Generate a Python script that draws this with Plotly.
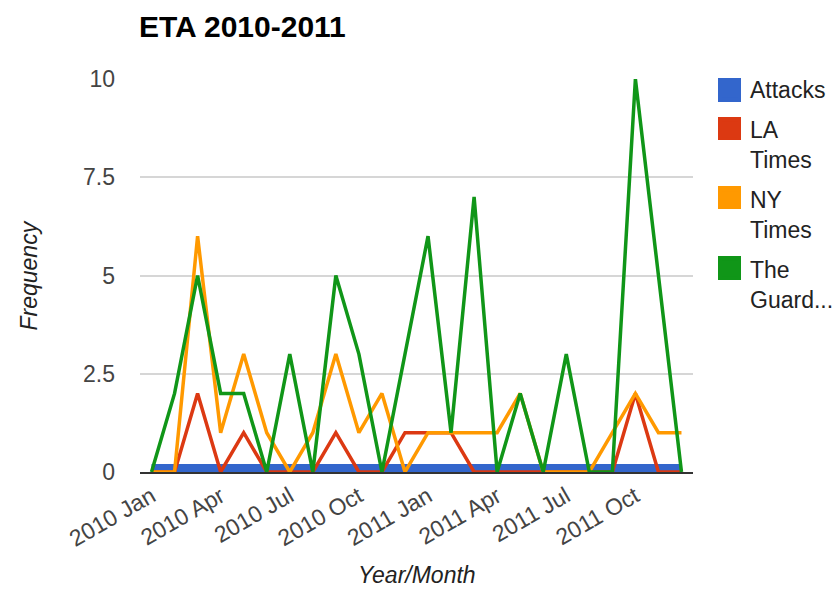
import plotly.graph_objects as go

months = ["2010 Jan", "2010 Feb", "2010 Mar", "2010 Apr", "2010 May", "2010 Jun",
          "2010 Jul", "2010 Aug", "2010 Sep", "2010 Oct", "2010 Nov", "2010 Dec",
          "2011 Jan", "2011 Feb", "2011 Mar", "2011 Apr", "2011 May", "2011 Jun",
          "2011 Jul", "2011 Aug", "2011 Sep", "2011 Oct", "2011 Nov", "2011 Dec"]
attacks = [0, 0, 0, 0, 0, 0, 0, 0, 0, 0, 0, 0, 0, 0, 0, 0, 0, 0, 0, 0, 0, 0, 0, 0]
la_times = [0, 0, 2, 0, 1, 0, 0, 0, 1, 0, 0, 1, 1, 1, 0, 0, 0, 0, 0, 0, 0, 2, 0, 0]
ny_times = [0, 0, 6, 1, 3, 1, 0, 1, 3, 1, 2, 0, 1, 1, 1, 1, 2, 0, 0, 0, 1, 2, 1, 1]
guardian = [0, 2, 5, 2, 2, 0, 3, 0, 5, 3, 0, 3, 6, 1, 7, 0, 2, 0, 3, 0, 0, 10, 5, 0]

tick_labels = ["2010 Jan", "2010 Apr", "2010 Jul", "2010 Oct",
               "2011 Jan", "2011 Apr", "2011 Jul", "2011 Oct"]
y_ticks = [0, 2.5, 5, 7.5, 10]
y_tick_text = ["0", "2.5", "5", "7.5", "10"]

series = [
    ("Attacks", attacks, "#3366cc", 16),
    ("LA<br>Times", la_times, "#dc3912", 3.5),
    ("NY<br>Times", ny_times, "#ff9900", 3.5),
    ("The<br>Guard...", guardian, "#109618", 3.5),
]

# figure geometry (page is offset by the 8px body margin)
W, H = 832, 582
L, T = 132, 71
PW, PH = 553, 393
R, B = W - L - PW, H - T - PH

FONT = "Arial, Liberation Sans, sans-serif"
FS = 23
fig = go.Figure()
for name, vals, color, w in series:
    fig.add_trace(go.Scatter(x=months, y=vals, mode="lines", name=name,
                             line=dict(color=color, width=w), showlegend=False,
                             hoverinfo="x+y"))
for i, (name, vals, color, w) in enumerate(series):
    fig.add_trace(go.Scatter(x=[None], y=[None], mode="markers", name=name,
                             legendgroup=f"g{i}",
                             marker=dict(symbol="square", size=16, color=color),
                             showlegend=True))

# enlarge legend keys to the reference's ~23px squares (figure pixel rows)
key_rows = [(70, 94), (109, 132), (178, 201), (248, 272)]
key_x0, key_x1 = 710, 733
for (y0, y1), (_, _, color, _) in zip(key_rows, series):
    fig.add_shape(type="rect", xref="paper", yref="paper",
                  x0=(key_x0 - L) / PW, x1=(key_x1 - L) / PW,
                  y0=(T + PH - y1) / PH, y1=(T + PH - y0) / PH,
                  fillcolor=color, line=dict(width=0), layer="above")

fig.update_layout(
    width=W, height=H,
    margin=dict(l=L, r=R, t=T, b=B, autoexpand=False),
    paper_bgcolor="white", plot_bgcolor="white",
    font=dict(family=FONT, size=FS, color="#444"),
    title=dict(text="<b>ETA 2010-2011</b>", x=131/W, xanchor="left",
               xref="container", y=1-18/H, yanchor="middle", yref="container",
               font=dict(family=FONT, size=30, color="#000")),
    legend=dict(x=702/W, xanchor="left", xref="container",
                y=1-60/H, yanchor="top", yref="container",
                font=dict(family=FONT, size=FS, color="#222"),
                valign="top", tracegroupgap=7, itemwidth=30,
                bgcolor="rgba(0,0,0,0)"),
    showlegend=True,
)
fig.update_xaxes(type="category", range=[-0.5, 23.5], tickmode="array",
                 tickvals=tick_labels, ticktext=tick_labels, tickangle=-30,
                 showgrid=False, showline=True, linecolor="#333", linewidth=2,
                 ticks="", tickfont=dict(size=FS, color="#444"), zeroline=False,
                 automargin=False)
fig.update_yaxes(range=[0, 10], tickmode="array", tickvals=y_ticks,
                 ticktext=y_tick_text, showgrid=True, gridcolor="#d6d6d6",
                 gridwidth=1.5, zeroline=False, showline=False, ticks="",
                 tickfont=dict(size=FS, color="#444"), ticklabelstandoff=24,
                 automargin=False)

fig.add_annotation(text="<i>Year/Month</i>", x=0.5, y=-(567-(T+PH))/PH, xref="paper",
                   yref="paper", showarrow=False, xanchor="center", yanchor="middle",
                   font=dict(family=FONT, size=FS, color="#222"))
fig.add_annotation(text="<i>Frequency</i>", x=(20-L)/PW, y=0.5, xref="paper",
                   yref="paper", showarrow=False, textangle=-90, xanchor="center",
                   yanchor="middle", font=dict(family=FONT, size=FS, color="#222"))

fig.write_html("out.html")
